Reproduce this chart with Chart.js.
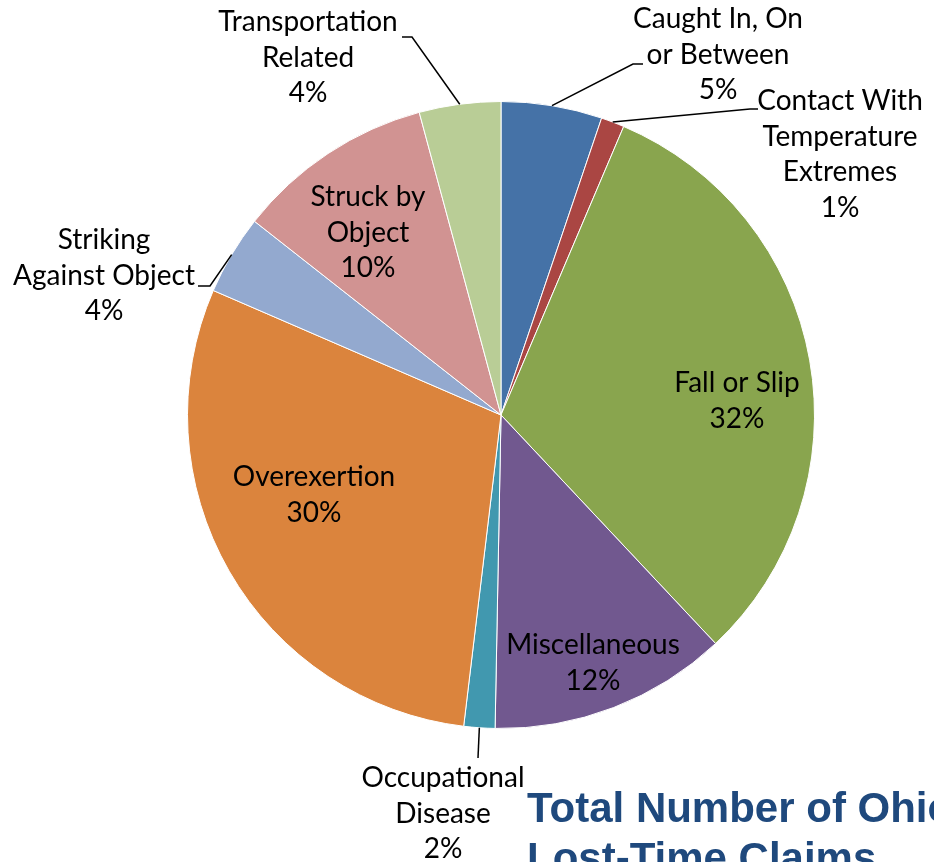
<!DOCTYPE html>
<html>
<head>
<meta charset="utf-8">
<script src="https://cdn.jsdelivr.net/npm/chart.js@4.4.1/dist/chart.umd.min.js"></script>
<style>
  html, body { margin: 0; padding: 0; background: #fff; overflow: hidden; }
  #wrap { position: relative; width: 934px; height: 862px; overflow: hidden; }
  #title {
    position: absolute; left: 527px; top: 783px;
    font: bold 42px "Liberation Sans", Arial, sans-serif;
    line-height: 50px; color: #1F497D; white-space: nowrap;
  }
</style>
</head>
<body>
<div id="wrap">
  <canvas id="chart-pie" width="934" height="862"></canvas>
  <div id="title">Total Number of Ohio<br>Lost-Time Claims</div>
</div>
<script>
// slice names (split into label lines), clockwise from 12 o'clock
const categories = [
  ['Caught In, On', 'or Between'],
  ['Contact With', 'Temperature', 'Extremes'],
  ['Fall or Slip'],
  ['Miscellaneous'],
  ['Occupational', 'Disease'],
  ['Overexertion'],
  ['Striking', 'Against Object'],
  ['Struck by', 'Object'],
  ['Transportation', 'Related']
];

// share of claims, %
const values = [5.2, 1.2, 31.6, 12.3, 1.6, 29.6, 4.1, 10.2, 4.2];

const colors = [
  '#4572A7', '#AA4643', '#89A54E', '#71588F', '#4198AF',
  '#DB843D', '#93A9CF', '#D19392', '#B9CD96'
];

// where each label block sits and how its leader line bends
const labelLayout = [
  { x: 718, y: 19,  leader: [[633, 64], [643, 64]] },
  { x: 840, y: 101, leader: [[750, 109], [758, 109]] },
  { x: 737, y: 383 },
  { x: 593, y: 645 },
  { x: 443, y: 778, leader: [[478, 758]] },
  { x: 314, y: 477 },
  { x: 104, y: 240, leader: [[210, 286], [198, 286]] },
  { x: 368, y: 197 },
  { x: 308, y: 22,  leader: [[412, 37], [402, 37]] }
];

const sliceLabels = {
  id: 'sliceLabels',
  afterDatasetsDraw(chart, args, opts) {
    const ctx = chart.ctx;
    const meta = chart.getDatasetMeta(0);
    const total = values.reduce((a, b) => a + b, 0);

    ctx.save();
    ctx.strokeStyle = '#000';
    ctx.lineWidth = 1.5;
    ctx.fillStyle = '#000';
    ctx.font = opts.font;
    ctx.textAlign = 'center';
    ctx.textBaseline = 'middle';

    meta.data.forEach((arc, i) => {
      const lay = labelLayout[i];

      // leader line starts on the rim at the slice's middle angle
      if (lay.leader) {
        const mid = (arc.startAngle + arc.endAngle) / 2;
        ctx.beginPath();
        ctx.moveTo(arc.x + Math.cos(mid) * arc.outerRadius, arc.y + Math.sin(mid) * arc.outerRadius);
        lay.leader.forEach(p => ctx.lineTo(p[0], p[1]));
        ctx.stroke();
      }

      const lines = categories[i].concat(Math.round(values[i] / total * 100) + '%');
      lines.forEach((txt, k) => {
        ctx.fillText(txt, lay.x, lay.y + k * opts.lineHeight);
      });
    });
    ctx.restore();
  }
};

const ctx = document.getElementById('chart-pie');
new Chart(ctx, {
  type: 'pie',
  data: {
    labels: categories.map(c => c.join(' ')),
    datasets: [{
      data: values,
      backgroundColor: colors,
      borderColor: '#fff',
      borderWidth: 1
    }]
  },
  options: {
    responsive: false,
    animation: false,
    layout: {
      padding: { left: 187, right: 119, top: 101, bottom: 133 }
    },
    plugins: {
      legend: { display: false },
      tooltip: { enabled: false },
      sliceLabels: {
        font: '28px Lato, "Open Sans", sans-serif',
        lineHeight: 35.5
      }
    }
  },
  plugins: [sliceLabels]
});
</script>
</body>
</html>
